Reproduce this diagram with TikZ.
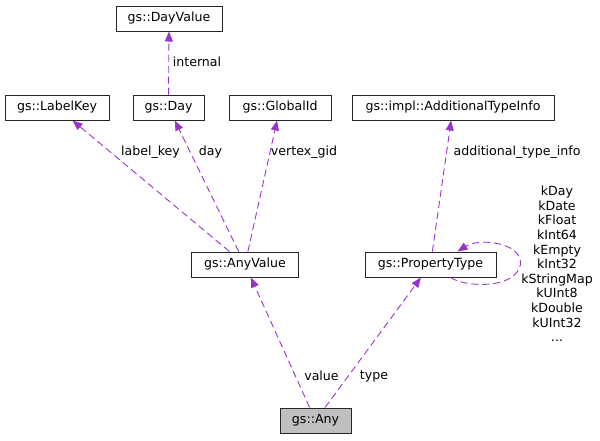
\documentclass[tikz,border=0pt]{standalone}
\usepackage{fontspec}
\newfontfamily\dejavu{DejaVu Sans}
\usetikzlibrary{arrows.meta, positioning, calc}
\definecolor{edgepurple}{HTML}{9A32CD}
\definecolor{nodegray}{HTML}{BFBFBF}

\begin{document}
\begin{tikzpicture}[
	x=1pt, y=-1pt,
	font=\dejavu\fontsize{12.6}{15}\selectfont,
	classnode/.style={draw=black!85, line width=1pt, fill=white, rectangle, minimum height=25pt, inner sep=0pt},
	focusnode/.style={classnode, fill=nodegray},
	edgelabel/.style={inner sep=0pt, align=center},
	pointer/.style={-{Triangle[length=10pt, width=8pt]}, edgepurple, line width=0.9pt, dash pattern=on 7pt off 4pt}
]
\useasboundingbox (0,0) rectangle (600,440);

% classes
\node[classnode, minimum width=106pt] (dayvalue) at (169,18.5) {gs::DayValue};
\node[classnode, minimum width=104pt] (labelkey) at (57,107.5) {gs::LabelKey};
\node[classnode, minimum width=71pt] (day) at (168.5,107.5) {gs::Day};
\node[classnode, minimum width=102pt] (globalid) at (280,107.5) {gs::GlobalId};
\node[classnode, minimum width=202pt] (typeinfo) at (453,107.5) {gs::impl::AdditionalTypeInfo};
\node[classnode, minimum width=107pt] (anyvalue) at (245,264.5) {gs::AnyValue};
\node[classnode, minimum width=131pt] (ptype) at (430.5,264.5) {gs::PropertyType};
\node[focusnode, minimum width=71pt] (any) at (315.5,420.5) {gs::Any};

% members
\draw[pointer] (day) -- (dayvalue);
\draw[pointer] (anyvalue) -- (labelkey);
\draw[pointer] (anyvalue) -- (day);
\draw[pointer] (anyvalue) -- (globalid);
\draw[pointer] (ptype) -- (typeinfo);
\draw[pointer] (any) -- (anyvalue);
\draw[pointer] (any) -- (ptype);
\draw[pointer] ([xshift=20pt]ptype.south) .. controls +(15,10) and +(-5,25) .. ([xshift=24pt]ptype.east)
	.. controls +(2,-22) and +(22,-14) .. ([xshift=27pt]ptype.north);

% labels
\node[edgelabel] (internallbl) at (197,62) {internal};
\node[edgelabel] (labelkeylbl) at (150.5,152) {label\_key};
\node[edgelabel] (daylbl) at (210.5,152) {day};
\node[edgelabel] (gidlbl) at (304,152) {vertex\_gid};
\node[edgelabel] (typeinfolbl) at (517,152) {additional\_type\_info};
\node[edgelabel] (valuelbl) at (321.5,376) {value};
\node[edgelabel] (typelbl) at (374,376) {type};
\node[edgelabel, font=\dejavu\fontsize{12.6}{14.6}\selectfont] (kindslbl) at (557,264)
	{kDay\\kDate\\kFloat\\kInt64\\kEmpty\\kInt32\\kStringMap\\kUInt8\\kDouble\\kUInt32\\...};

\end{tikzpicture}
\end{document}
